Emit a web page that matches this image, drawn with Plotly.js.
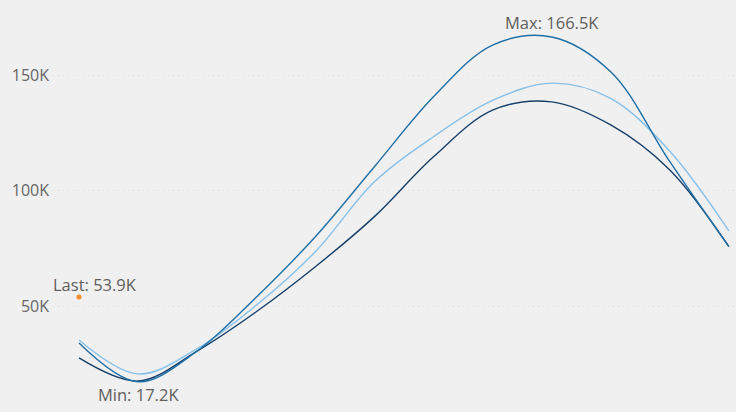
<!DOCTYPE html>
<html>
<head>
<meta charset="utf-8">
<script src="https://cdn.plot.ly/plotly-3.0.1.min.js"></script>
<style>html,body{margin:0;padding:0;background:#f0f0f0;}#chart{width:736px;height:412px;}</style>
</head>
<body>
<div id="chart"></div>
<script>
const periods = [0,1,2,3,4,5,6,7,8,9,10,11];
const seriesA = [34.0, 17.2, 30.5, 53.8, 80.0, 110.3, 140.6, 163.0, 166.5, 151.4, 112.5, 75.7];
const seriesB = [35.3, 20.6, 31.5, 50.3, 73.5, 103.8, 123.3, 139.0, 146.5, 139.9, 117.0, 82.5];
const seriesC = [27.5, 17.5, 30.5, 47.5, 67.0, 88.7, 114.6, 134.8, 138.4, 128.4, 108.9, 75.7];
const lastValue = 53.9;
const yTickVals = [50, 100, 150];
const yTickText = ['50K', '100K', '150K'];

const k = v => v * 1000;
const mk = (y, color) => ({
  x: periods, y: y.map(k), type: 'scatter', mode: 'lines',
  line: {shape: 'spline', smoothing: 1, color: color, width: 1.4},
  hoverinfo: 'skip', showlegend: false
});
const data = [
  mk(seriesB, '#86c0ea'),
  mk(seriesC, '#163f69'),
  mk(seriesA, '#1e6fa6'),
  {x: [periods[0]], y: [k(lastValue)], type: 'scatter', mode: 'markers',
   marker: {color: '#f28c28', size: 5}, showlegend: false, hoverinfo: 'skip'}
];
const maxIdx = seriesA.indexOf(Math.max(...seriesA));
const minIdx = seriesA.indexOf(Math.min(...seriesA));
const annFont = {family: 'Open Sans, sans-serif', size: 16.5, color: '#605e5c'};
const layout = {
  width: 736, height: 412,
  margin: {l: 53, r: 0, t: 0, b: 0},
  paper_bgcolor: '#f0f0f0', plot_bgcolor: '#f0f0f0',
  xaxis: {range: [-0.44, 11.12], showgrid: false, zeroline: false, showticklabels: false, showline: false},
  yaxis: {range: [4100, 182500], tickvals: yTickVals.map(k), ticktext: yTickText,
          showgrid: true, gridcolor: '#e0e0e0', griddash: '1px,4px', gridwidth: 1,
          zeroline: false, showline: false, ticks: '', ticklabelstandoff: 3,
          tickfont: {family: 'Open Sans, sans-serif', size: 16, color: '#666666'}},
  annotations: [
    {x: periods[maxIdx], y: k(seriesA[maxIdx]), text: 'Max: ' + seriesA[maxIdx] + 'K',
     showarrow: false, yshift: 14, xshift: 0, font: annFont},
    {x: periods[minIdx], y: k(seriesA[minIdx]), text: 'Min: ' + seriesA[minIdx] + 'K',
     showarrow: false, yshift: -13, xshift: 0, font: annFont},
    {x: periods[0], y: k(lastValue), text: 'Last: ' + lastValue + 'K',
     showarrow: false, yshift: 12, xshift: 16, font: annFont}
  ]
};
Plotly.newPlot('chart', data, layout, {displayModeBar: false, staticPlot: true});
</script>
</body>
</html>
